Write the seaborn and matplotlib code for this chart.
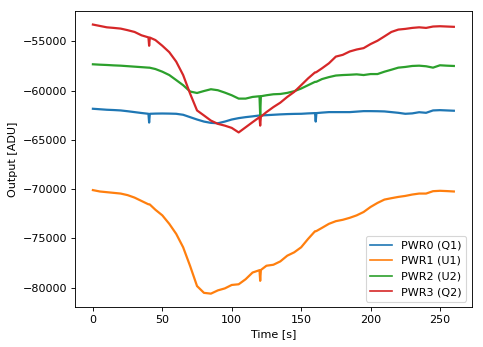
import matplotlib
matplotlib.use("Agg")
import matplotlib.pyplot as plt
import seaborn as sns
import pandas as pd

# Sample times [s]; short glitches are recorded as an extra sample half a second later
time_s = [0, 5, 10, 15, 20, 25, 30, 35, 40, 40.5, 41, 45, 50, 55, 60, 65, 70, 75,
          80, 85, 90, 95, 100, 105, 110, 115, 120, 120.5, 121, 125, 130, 135, 140,
          145, 150, 155, 160, 160.5, 161, 165, 170, 175, 180, 185, 190, 195, 200,
          205, 210, 215, 220, 225, 230, 235, 240, 245, 250, 255, 260]

pwr0_q1 = [-61850, -61900, -61950, -61980, -62020, -62100, -62190, -62280, -62360, -63250, -62360,
           -62340, -62330, -62340, -62360, -62460, -62700, -62940, -63150, -63280, -63320, -63150,
           -62940, -62800, -62700, -62620, -62530, -62530, -62530, -62500, -62460, -62420, -62390,
           -62370, -62360, -62320, -62290, -63150, -62290, -62240, -62190, -62190, -62190, -62190,
           -62140, -62090, -62090, -62100, -62120, -62190, -62260, -62360, -62320, -62200, -62260,
           -62020, -61990, -62020, -62050]

pwr1_u1 = [-70100, -70240, -70310, -70380, -70450, -70610, -70860, -71200, -71540, -71540, -71560,
           -72090, -72660, -73520, -74540, -75900, -77790, -79830, -80520, -80600, -80270, -80070,
           -79720, -79650, -79140, -78460, -78220, -79300, -78200, -77770, -77670, -77330, -76750,
           -76410, -75900, -75050, -74270, -74270, -74250, -73930, -73520, -73250, -73110, -72910,
           -72660, -72320, -71810, -71400, -71060, -70920, -70790, -70690, -70550, -70450, -70450,
           -70210, -70170, -70200, -70240]

pwr2_u2 = [-57340, -57380, -57410, -57450, -57480, -57530, -57580, -57630, -57680, -57680, -57690,
           -57820, -58090, -58430, -58940, -59460, -60100, -60250, -60050, -59870, -59970, -60210,
           -60480, -60820, -60820, -60650, -60580, -62530, -60580, -60480, -60380, -60350, -60240,
           -60070, -59800, -59460, -59120, -59120, -59110, -58840, -58640, -58480, -58430, -58400,
           -58360, -58430, -58330, -58330, -58090, -57890, -57680, -57610, -57510, -57480, -57540,
           -57680, -57440, -57480, -57510]

pwr3_q2 = [-53310, -53450, -53590, -53650, -53720, -53880, -54060, -54400, -54610, -55460, -54630,
           -54880, -55460, -56110, -57070, -58430, -60310, -62020, -62530, -63050, -63380, -63560,
           -63790, -64250, -63730, -63210, -62700, -63560, -62650, -62190, -61680, -61230, -60650,
           -60140, -59460, -58770, -58160, -58160, -58130, -57750, -57240, -56560, -56380, -56040,
           -55840, -55700, -55290, -54950, -54510, -54060, -53820, -53750, -53650, -53590, -53650,
           -53510, -53480, -53510, -53540]

series_names = ["PWR0 (Q1)", "PWR1 (U1)", "PWR2 (U2)", "PWR3 (Q2)"]
series_values = [pwr0_q1, pwr1_u1, pwr2_u2, pwr3_q2]

frames = [pd.DataFrame({"Time": time_s, "Output": vals, "Channel": name})
          for name, vals in zip(series_names, series_values)]
data = pd.concat(frames, ignore_index=True)

DPI = 80
fig = plt.figure(figsize=(483 / DPI, 347 / DPI), dpi=DPI)
ax = fig.add_axes([0.155, 0.115, 0.822, 0.853])

sns.lineplot(data=data, x="Time", y="Output", hue="Channel",
             hue_order=series_names, palette="tab10", linewidth=2.0,
             sort=False, estimator=None, ax=ax)

ax.set_xlabel("Time [s]")
ax.set_ylabel("Output [ADU]")
ax.set_xticks([0, 50, 100, 150, 200, 250])
ax.set_yticks([-80000, -75000, -70000, -65000, -60000, -55000])

leg = ax.legend(loc="lower right", title=None)
for line in leg.get_lines():
    line.set_linewidth(1.5)

fig.savefig("out.png", dpi=DPI)
